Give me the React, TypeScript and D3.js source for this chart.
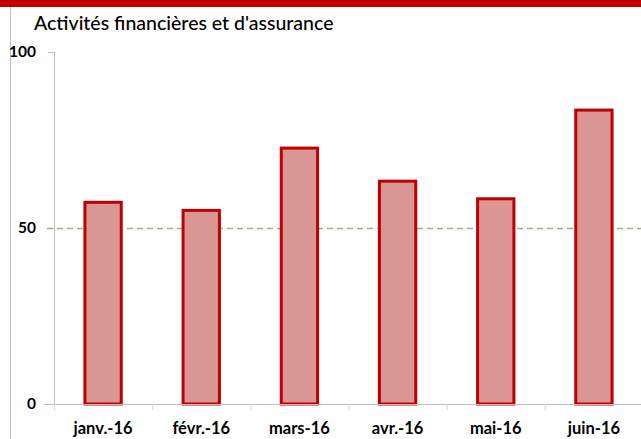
import React from 'react';
import * as d3 from 'd3';

const months = ['janv.-16', 'févr.-16', 'mars-16', 'avr.-16', 'mai-16', 'juin-16'];
const values = [57.3, 55.0, 72.7, 63.3, 58.3, 83.5];
const yTicks = [0, 50, 100];
const refValue = 50;
const title = "Activités financières et d'assurance";

const W = 641;
const H = 439;
const margin = { top: 52, right: -2, bottom: 35, left: 54 };

export default function App() {
  const x = d3.scaleBand()
    .domain(months)
    .range([margin.left, W - margin.right])
    .paddingInner(0.63)
    .paddingOuter(0.315);

  const y = d3.scaleLinear()
    .domain([0, 100])
    .range([H - margin.bottom, margin.top]);

  const step = x.step();
  const x0 = margin.left;
  const font = 'Lato, "DejaVu Sans", sans-serif';

  return (
    <svg width={W} height={H} style={{ position: 'absolute', top: 0, left: 0 }} fontFamily={font}>
      <rect x={0} y={0} width={W} height={H} fill="#fff" />
      {/* red band on top */}
      <rect x={0} y={0} width={W} height={7} fill="#c00000" />
      {/* left frame line */}
      <line x1={10.5} x2={10.5} y1={7} y2={H} stroke="#bfbfbf" strokeWidth={1} />

      <text x={34} y={30} fontSize={19.5} fill="#000" fontWeight={500}>{title}</text>

      {/* y axis */}
      <line x1={x0 + 0.5} x2={x0 + 0.5} y1={y(100)} y2={y(0)} stroke="#bfbfbf" />
      {yTicks.map(t => (
        <g key={t}>
          <line x1={x0 - 6} x2={x0} y1={Math.round(y(t)) + 0.5} y2={Math.round(y(t)) + 0.5} stroke="#bfbfbf" />
          <text x={x0 - 18} y={y(t)} dy="0.35em" textAnchor="end" fontSize={15.5} fontWeight={700} fill="#000">{t}</text>
        </g>
      ))}

      {/* reference line */}
      <line x1={x0 - 7} x2={W} y1={Math.round(y(refValue)) + 0.5} y2={Math.round(y(refValue)) + 0.5}
        stroke="#b3a681" strokeWidth={1.5} strokeDasharray="6,4" />

      {/* bars */}
      {months.map((m, i) => (
        <rect
          key={m}
          x={x(m)}
          y={y(values[i])}
          width={x.bandwidth()}
          height={y(0) - y(values[i])}
          fill="#d99694"
          stroke="#c00000"
          strokeWidth={3}
        />
      ))}

      {/* x axis */}
      <line x1={x0 - 10} x2={W} y1={Math.round(y(0)) + 0.5} y2={Math.round(y(0)) + 0.5} stroke="#bfbfbf" />
      {months.map((m, i) => (
        <line key={'t' + m} x1={x0 + i * step + 0.5} x2={x0 + i * step + 0.5}
          y1={y(0)} y2={y(0) + 6} stroke="#d9d9d9" />
      ))}
      {months.map(m => (
        <text key={'l' + m} x={(x(m) ?? 0) + x.bandwidth() / 2} y={434} textAnchor="middle"
          fontSize={16.5} fontWeight={700} fill="#000">{m}</text>
      ))}
    </svg>
  );
}
